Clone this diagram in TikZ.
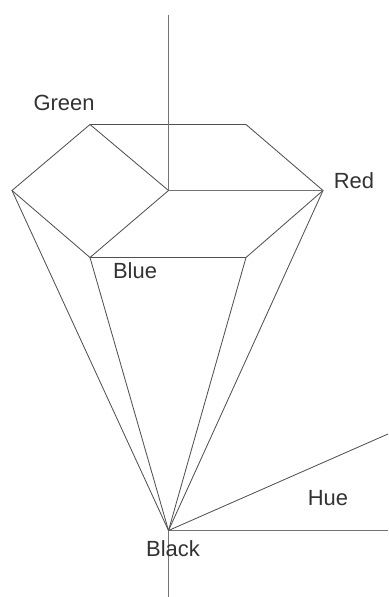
\documentclass[tikz,border=0pt]{standalone}
\usepackage{fontspec}
\setmainfont{Liberation Sans}
\usepackage{tikz}
\usetikzlibrary{positioning}
\definecolor{edgeGray}{RGB}{80,80,80}
\definecolor{labelGray}{RGB}{50,50,50}

\begin{document}
\begin{tikzpicture}[x=0.72pt,y=-0.72pt,
  every node/.style={font=\fontsize{15.8pt}{18pt}\selectfont,text=labelGray,inner sep=0pt},
  edge/.style={draw=edgeGray,line width=0.6pt},
  axis/.style={draw=edgeGray!80,line width=0.72pt}]
  \useasboundingbox (0,0) rectangle (388,597);
  % hexagon corners
  \coordinate (centre) at (168.5,190.5);
  \coordinate (green) at (90,124.5);
  \coordinate (yellow) at (246,124.5);
  \coordinate (red) at (323,190.5);
  \coordinate (magenta) at (246,257.5);
  \coordinate (blue) at (90,257.5);
  \coordinate (cyan) at (12,190.5);
  \coordinate (black) at (168.5,530.5);
  % free ends
  \coordinate (axisTop) at (168.5,15);
  \coordinate (axisBot) at (168.5,597);
  \coordinate (hueEnd) at (388,530.5);
  \coordinate (hueRay) at (388,434);
  % hexagon
  \draw[edge](green)--(yellow)--(red)--(magenta)--(blue)--(cyan)--cycle;
  \draw[edge](green)--(centre);
  \draw[edge](blue)--(centre);
  % sides of the cone
  \foreach \c in {cyan,blue,magenta,red}{
    \draw[edge](\c)--(black);
  }
  % axes
  \draw[axis](axisTop)--(centre);
  \draw[axis](centre)--(red);
  \draw[axis](black)--(axisBot);
  \draw[axis](black)--(hueEnd);
  \draw[edge](black)--(hueRay);
  % labels
  \node (greenLabel) at (64,103){Green};
  \node (redLabel) at (354,181){Red};
  \node (blueLabel) at (135,271){Blue};
  \node (hueLabel) at (328,498){Hue};
  \node (blackLabel) at (173,549){Black};
\end{tikzpicture}
\end{document}
